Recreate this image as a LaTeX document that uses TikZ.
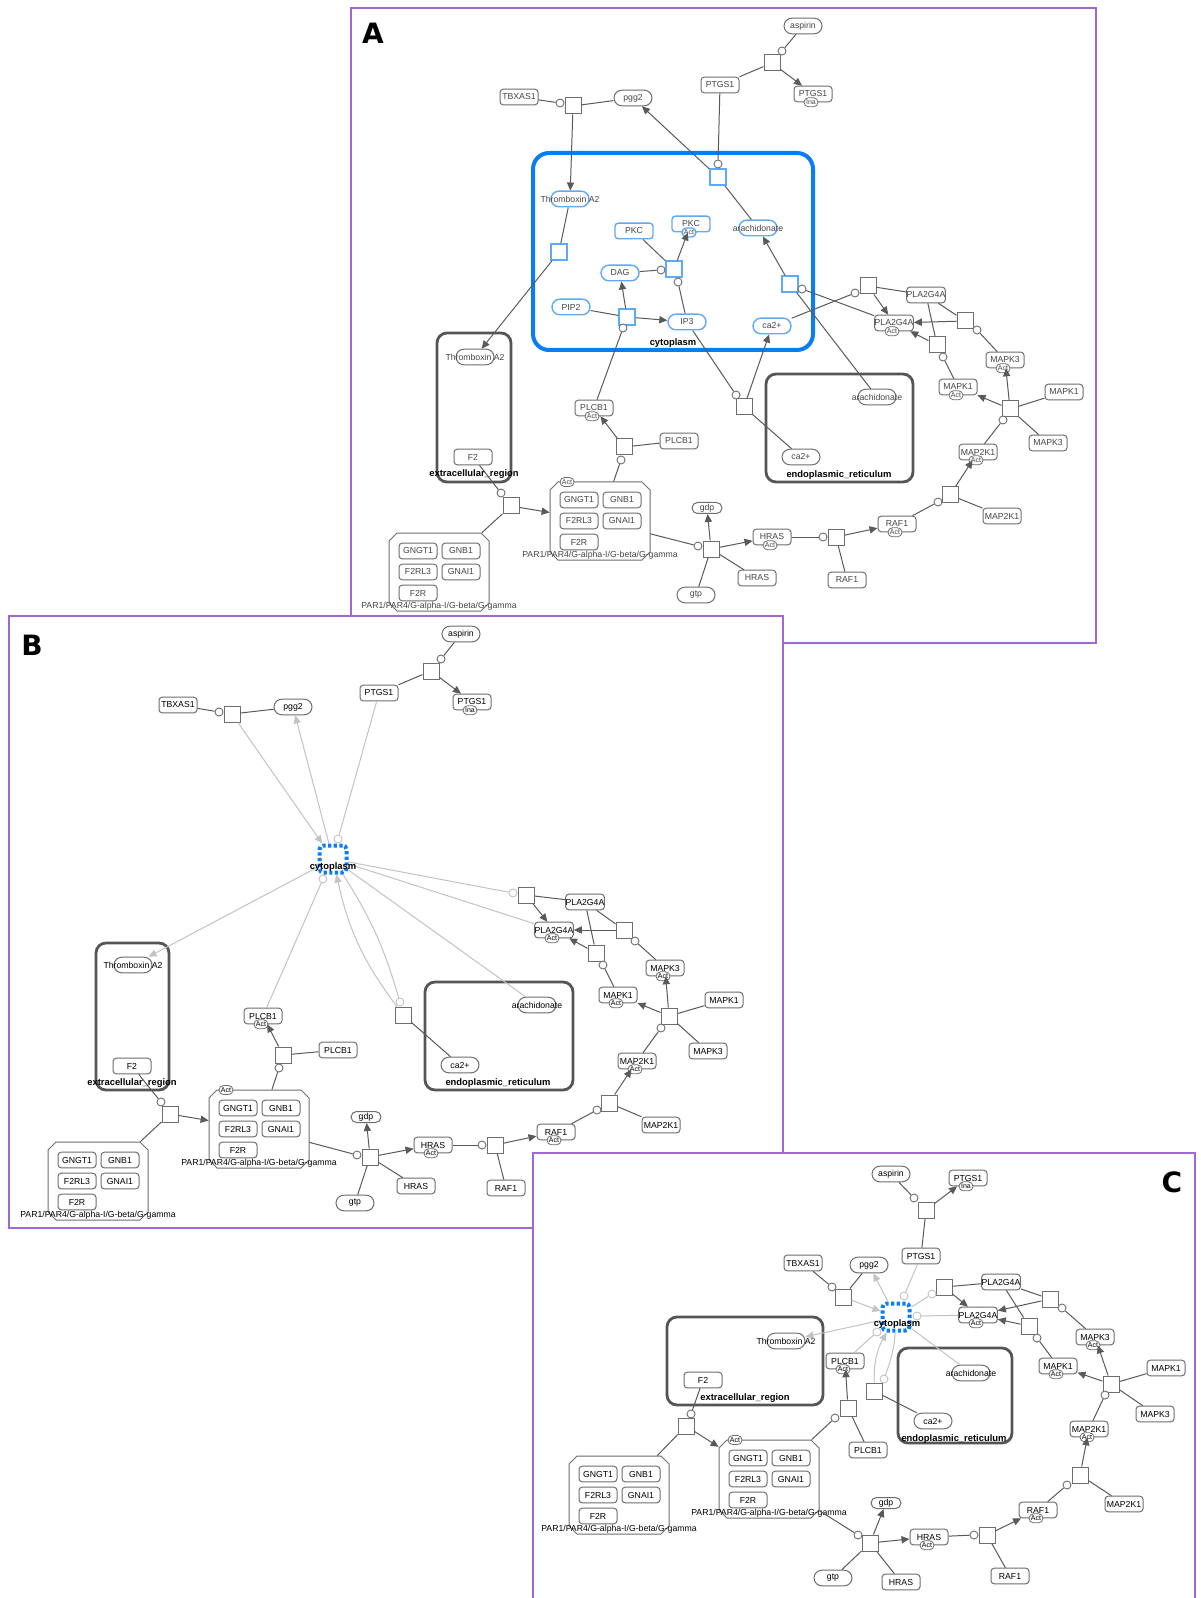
\documentclass[tikz,border=0pt]{standalone}
\usepackage{fontspec}
\setmainfont{Liberation Sans}
\newfontfamily\panelfont{DejaVu Sans}
\usetikzlibrary{arrows.meta,fit,calc}

\definecolor{frm}{RGB}{160,105,210}
\definecolor{edg}{RGB}{90,90,90}
\definecolor{nbd}{RGB}{110,110,110}
\definecolor{lgt}{RGB}{195,195,195}
\definecolor{cyb}{RGB}{10,125,245}
\definecolor{cyl}{RGB}{95,170,245}
\definecolor{cmp}{RGB}{85,85,85}
\definecolor{txa}{RGB}{70,70,70}

\tikzset{
 lab/.style={font=\fontsize{4.35pt}{5pt}\selectfont, inner sep=0pt},
 ent/.style={lab, draw=nbd, fill=white, line width=0.5pt, rounded corners=1.6pt, minimum width=19pt, minimum height=7.8pt},
 sm/.style={ent, rounded corners=3.9pt},
 sms/.style={sm, minimum width=15pt, minimum height=5.5pt, rounded corners=2.75pt},
 rx/.style={draw=nbd, fill=white, line width=0.5pt, minimum size=8pt, inner sep=0pt},
 mod/.style={circle, draw=nbd, fill=white, line width=0.45pt, minimum size=4pt, inner sep=0pt},
 lmod/.style={mod, draw=lgt},
 tag/.style={draw=nbd, fill=white, line width=0.4pt, rounded corners=2.25pt, minimum width=7pt, minimum height=4.5pt, inner sep=0pt, font=\fontsize{3.5pt}{3.7pt}\selectfont},
 ln/.style={draw=edg, line width=0.5pt},
 arr/.style={ln, -{Triangle[length=4pt,width=3.6pt]}},
 lln/.style={draw=lgt, line width=0.5pt},
 larr/.style={lln, -{Triangle[length=4pt,width=3.6pt]}},
 comp/.style={draw=cmp, line width=1.4pt, rounded corners=5pt},
 clab/.style={font=\bfseries\fontsize{4.7pt}{5pt}\selectfont, inner sep=0pt},
 panelframe/.style={draw=frm, line width=0.75pt, fill=white},
 plet/.style={font=\panelfont\bfseries\fontsize{14pt}{14pt}\selectfont, inner sep=0pt},
 bl/.style={draw=cyl, line width=0.7pt},
 cytc/.style={draw=cyb, line width=2pt, dash pattern=on 1.6pt off 1.2pt, rounded corners=2pt, minimum size=13.5pt, inner sep=0pt, fill=white},
}

% building blocks
\newcommand\Et[4][]{\node[ent,#1] (#2) at (#3) {#4};}
\newcommand\Sm[4][]{\node[sm,#1] (#2) at (#3) {#4};}
\newcommand\Tg[5][]{\node[ent,#1] (#2) at (#3) {#4}; \node[tag,#1] at ([xshift=-1pt]#2.south) {#5};}
\newcommand\Rx[3][]{\node[rx,#1] (#2) at (#3) {};}
\newcommand\Md[3][]{\node[mod,#1] (#2) at (#3) {};}
\newcommand\Wsm[4][]{\node[sm,#1] (#2) at (#3) {}; \node[lab] at (#2) {#4};}
\newcommand\Ln[2]{\draw[ln] (#1) -- (#2);}
\newcommand\Ar[2]{\draw[arr] (#1) -- (#2);}
\newcommand\LLn[2]{\draw[lln] (#1) -- (#2);}
\newcommand\LAr[2]{\draw[larr] (#1) -- (#2);}
% protein complex with chamfered outline; #1 name, #2,#3 top-left corner
\newcommand\Cplx[3]{%
 \draw[draw=nbd, line width=0.5pt, fill=white] ({#2+8},#3) -- ({#2+92},#3) -- ({#2+100},{#3+8}) -- ({#2+100},{#3+70}) -- ({#2+92},{#3+78}) -- ({#2+8},{#3+78}) -- (#2,{#3+70}) -- (#2,{#3+8}) -- cycle;
 \node[fit={(#2,#3) ({#2+100},{#3+78})}, inner sep=0pt] (#1) {};
 \Et{#1-1}{{#2+29},{#3+18}}{GNGT1}
 \Et{#1-2}{{#2+72},{#3+18}}{GNB1}
 \Et{#1-3}{{#2+29},{#3+39}}{F2RL3}
 \Et{#1-4}{{#2+72},{#3+39}}{GNAI1}
 \Et{#1-5}{{#2+29},{#3+60}}{F2R}
 \node[lab] at ({#2+50},{#3+73}) {PAR1/PAR4/G-alpha-I/G-beta/G-gamma};}

\begin{document}
\begin{tikzpicture}[x=0.5pt,y=-0.5pt]
\useasboundingbox (0,0) rectangle (1200,1598);
\fill[white] (0,0) rectangle (1200,1598);

%================ panel A : expanded cytoplasm ================
\begin{scope}[every node/.append style={text=txa}]
\draw[panelframe] (351,8) rectangle (1096,643);
\node[plet,text=black] at (373,33) {A};

\draw[draw=cyb, line width=2pt, rounded corners=8pt] (533,153) rectangle (813,350);
\draw[comp] (766,374) rectangle (913,482);
\draw[comp] (437,333) rectangle (511,482);

\Et{aTBX}{519,97}{TBXAS1}
\Rx{aTBXr}{573,106} \Md{aTBXc}{560,103}
\Sm{aPGG}{633,98}{pgg2}
\Et{aPTG}{720,85}{PTGS1}
\Rx{aASPr}{772,63} \Md{aASPc}{782,51}
\Sm{aASP}{803,26}{aspirin}
\Tg{aPTGi}{813,94}{PTGS1}{Ina}

\Wsm[bl]{aTXc}{570,199}{Thromboxin A2}
\Rx[bl]{aTXr}{559,252}
\Et[bl]{aPKC}{634,231}{PKC}
\Tg[bl]{aPKCa}{691,224}{PKC}{Act}
\Sm[bl]{aDAG}{620,273}{DAG}
\Rx[bl]{aDAGr}{674,269} \Md{aDAGc1}{661,270} \Md{aDAGc2}{678,282}
\Sm[bl]{aPIP}{571,307}{PIP2}
\Rx[bl]{aPIPr}{627,317} \Md{aPIPc}{623,328}
\Sm[bl]{aIP3}{687,322}{IP3}
\Wsm[bl]{aARc}{758,228}{arachidonate}
\Rx[bl]{aPGr}{718,177} \Md{aPGc}{718,164}
\Rx[bl]{aARr}{790,284} \Md{aARm}{802,289}
\Sm[bl]{aCAc}{772,326}{ca2+}

\Rx{aPL1r}{868,286} \Md{aPL1c}{855,293}
\Et{aPLA}{926,295}{PLA2G4A}
\Tg{aPLAa}{894,323}{PLA2G4A}{Act}
\Rx{aPL2r}{965,321} \Md{aPL2c}{977,330}
\Rx{aPL3r}{937,345} \Md{aPL3c}{943,357}
\Tg{aMK3a}{1005,360}{MAPK3}{Act}
\Tg{aMK1a}{958,387}{MAPK1}{Act}
\Rx{aMKr}{1010,409} \Md{aMKc}{1003,420}
\Et{aMK1}{1064,392}{MAPK1}
\Et{aMK3}{1048,443}{MAPK3}
\Tg{aM2Ka}{978,452}{MAP2K1}{Act}
\Rx{aM2r}{950,495} \Md{aM2c}{938,502}
\Et{aM2K}{1002,516}{MAP2K1}
\Tg{aRAFa}{897,524}{RAF1}{Act}
\Rx{aRAFr}{836,537} \Md{aRAFc}{823,537}
\Et{aRAF}{847,580}{RAF1}
\Tg{aHRa}{772,537}{HRAS}{Act}
\Et{aHR}{757,578}{HRAS}
\Rx{aHRr}{711,549} \Md{aHRc}{698,546}
\node[sms] (aGDP) at (707,508) {gdp};
\Sm{aGTP}{696,595}{gtp}
\Cplx{aCA}{550}{482}
\node[tag] at (567,482) {Act};
\Rx{aPLCr}{624,447} \Md{aPLCc}{621,460}
\Et{aPLC}{679,441}{PLCB1}
\Tg{aPLCa}{594,408}{PLCB1}{Act}
\Rx{aCAr}{744,407} \Md{aCAm}{736,395}
\Wsm{aARe}{877,397}{arachidonate}
\Sm{aCAe}{801,457}{ca2+}
\Wsm{aTXe}{475,357}{Thromboxin A2}
\Et{aF2}{473,457}{F2}
\Rx{aF2r}{511,506} \Md{aF2c}{501,493}
\Cplx{aCL}{389}{533}

\Ln{aTBX}{aTBXc} \Ln{aTBXr}{aPGG} \Ar{aTBXr}{aTXc}
\Ln{aPTG}{aASPr} \Ln{aASP}{aASPc} \Ar{aASPr}{aPTGi}
\Ln{aTXc}{aTXr} \Ar{aTXr}{aTXe}
\Ln{aPKC}{aDAGr} \Ln{aDAG}{aDAGc1} \Ar{aDAGr}{aPKCa} \Ln{aIP3}{aDAGc2}
\Ln{aPIP}{aPIPr} \Ar{aPIPr}{aDAG} \Ar{aPIPr}{aIP3} \Ln{aPLCa}{aPIPc}
\Ln{aPTG}{aPGc} \Ln{aARc}{aPGr} \Ar{aPGr}{aPGG}
\Ar{aARr}{aARc} \Ln{aARr}{aARe} \Ln{aARm}{aPLAa}
\Ln{aCAc}{aPL1c} \Ln{aPL1r}{aPLA} \Ar{aPL1r}{aPLAa}
\Ln{aPLA}{aPL2r} \Ar{aPL2r}{aPLAa} \Ln{aMK3a}{aPL2c}
\Ln{aPLA}{aPL3r} \Ar{aPL3r}{aPLAa} \Ln{aMK1a}{aPL3c}
\Ar{aMKr}{aMK3a} \Ar{aMKr}{aMK1a} \Ln{aMKr}{aMK1} \Ln{aMKr}{aMK3} \Ln{aM2Ka}{aMKc}
\Ar{aM2r}{aM2Ka} \Ln{aM2r}{aM2K} \Ln{aRAFa}{aM2c}
\Ar{aRAFr}{aRAFa} \Ln{aRAFr}{aRAF} \Ln{aHRa}{aRAFc}
\Ar{aHRr}{aHRa} \Ln{aHRr}{aHR} \Ar{aHRr}{aGDP} \Ln{aGTP}{aHRr} \Ln{aCA}{aHRc}
\Ar{aPLCr}{aPLCa} \Ln{aPLCr}{aPLC} \Ln{aCA}{aPLCc}
\Ln{aIP3}{aCAm} \Ar{aCAr}{aCAc} \Ln{aCAr}{aCAe}
\Ln{aF2}{aF2c} \Ar{aF2r}{aCA} \Ln{aF2r}{aCL}

\node[clab,text=black] at (673,343) {cytoplasm};
\node[clab,text=black] at (839,475) {endoplasmic\_reticulum};
\node[clab,text=black] at (474,474) {extracellular\_region};
\end{scope}

%================ panel B : collapsed cytoplasm ================
\draw[panelframe] (9,616) rectangle (783,1228);
\node[plet] at (32,645) {B};
\draw[comp] (96,943) rectangle (169,1090);
\draw[comp] (425,982) rectangle (573,1090);

\Et{bTBX}{178,705}{TBXAS1}
\Rx{bTBXr}{232,714} \Md{bTBXc}{219,712}
\Sm{bPGG}{293,707}{pgg2}
\Et{bPTG}{379,693}{PTGS1}
\Sm{bASP}{461,634}{aspirin}
\Rx{bASPr}{431,671} \Md{bASPc}{441,659}
\Tg{bPTGi}{472,702}{PTGS1}{Ina}
\node[cytc] (bCYT) at (333,859) {};
\Md[lmod]{bCYTc1}{338,839} \Md[lmod]{bCYTc2}{323,879}
\Rx{bPL1r}{526,895} \Md[lmod]{bPL1c}{513,893}
\Et{bPLA}{585,902}{PLA2G4A}
\Tg{bPLAa}{554,930}{PLA2G4A}{Act}
\Rx{bPL2r}{624,930} \Md{bPL2c}{635,941}
\Rx{bPL3r}{596,953} \Md{bPL3c}{603,965}
\Tg{bMK3a}{665,968}{MAPK3}{Act}
\Tg{bMK1a}{618,995}{MAPK1}{Act}
\Rx{bMKr}{669,1016} \Md{bMKc}{661,1028}
\Et{bMK1}{724,1000}{MAPK1}
\Et{bMK3}{708,1051}{MAPK3}
\Tg{bM2Ka}{637,1061}{MAP2K1}{Act}
\Rx{bM2r}{609,1103} \Md{bM2c}{597,1110}
\Et{bM2K}{661,1125}{MAP2K1}
\Tg{bRAFa}{556,1132}{RAF1}{Act}
\Rx{bRAFr}{495,1145} \Md{bRAFc}{482,1145}
\Et{bRAF}{506,1188}{RAF1}
\Tg{bHRa}{433,1145}{HRAS}{Act}
\Et{bHR}{416,1186}{HRAS}
\Rx{bHRr}{370,1157} \Md{bHRc}{357,1155}
\node[sms] (bGDP) at (366,1117) {gdp};
\Sm{bGTP}{355,1203}{gtp}
\Cplx{bCA}{209}{1090}
\node[tag] at (226,1090) {Act};
\Cplx{bCL}{48}{1142}
\Rx{bF2r}{170,1114} \Md{bF2c}{161,1102}
\Et{bF2}{132,1066}{F2}
\Wsm{bTXe}{133,965}{Thromboxin A2}
\Tg{bPLCa}{263,1016}{PLCB1}{Act}
\Rx{bPLCr}{283,1055} \Md{bPLCc}{279,1068}
\Et{bPLC}{338,1050}{PLCB1}
\Rx{bCAr}{403,1015} \Md[lmod]{bCAc}{400,1002}
\Wsm{bARe}{537,1005}{arachidonate}
\Sm{bCAe}{460,1065}{ca2+}

\Ln{bTBX}{bTBXc} \Ln{bTBXr}{bPGG} \Ln{bPTG}{bASPr} \Ln{bASP}{bASPc} \Ar{bASPr}{bPTGi}
\Ln{bPL1r}{bPLA} \Ar{bPL1r}{bPLAa}
\Ln{bPLA}{bPL2r} \Ar{bPL2r}{bPLAa} \Ln{bMK3a}{bPL2c}
\Ln{bPLA}{bPL3r} \Ar{bPL3r}{bPLAa} \Ln{bMK1a}{bPL3c}
\Ar{bMKr}{bMK3a} \Ar{bMKr}{bMK1a} \Ln{bMKr}{bMK1} \Ln{bMKr}{bMK3} \Ln{bM2Ka}{bMKc}
\Ar{bM2r}{bM2Ka} \Ln{bM2r}{bM2K} \Ln{bRAFa}{bM2c}
\Ar{bRAFr}{bRAFa} \Ln{bRAFr}{bRAF} \Ln{bHRa}{bRAFc}
\Ar{bHRr}{bHRa} \Ln{bHRr}{bHR} \Ar{bHRr}{bGDP} \Ln{bGTP}{bHRr} \Ln{bCA}{bHRc}
\Ar{bPLCr}{bPLCa} \Ln{bPLCr}{bPLC} \Ln{bCA}{bPLCc}
\Ln{bF2}{bF2c} \Ar{bF2r}{bCA} \Ln{bF2r}{bCL}
\Ln{bCAr}{bCAe}
\LAr{bTBXr}{bCYT} \LAr{bCYT}{bPGG} \LLn{bPTG}{bCYTc1} \LAr{bCYT}{bTXe} \LLn{bPLCa}{bCYTc2}
\draw[larr] (bCAr) to[bend left=12] (bCYT);
\draw[lln] (bCYT) to[bend left=8] (bCAc);
\LLn{bCYT}{bPL1c} \LLn{bCYT}{bPLAa} \LLn{bCYT}{bARe}

\node[clab] at (333,867) {cytoplasm};
\node[clab] at (132,1083) {extracellular\_region};
\node[clab] at (498,1083) {endoplasmic\_reticulum};

%================ panel C : collapsed cytoplasm, regrouped ================
\draw[panelframe] (533,1153) rectangle (1195,1610);
\node[plet] at (1172,1182) {C};
\draw[comp] (667,1317) rectangle (823,1405);
\draw[comp] (898,1348) rectangle (1012,1443);

\Et{cTBX}{803,1263}{TBXAS1}
\Rx{cTBXr}{843,1297} \Md{cTBXc}{832,1287}
\Sm{cPGG}{869,1265}{pgg2}
\Sm{cASP}{891,1174}{aspirin}
\Tg{cPTGi}{968,1178}{PTGS1}{Ina}
\Rx{cASPr}{926,1210} \Md{cASPc}{914,1198}
\Et{cPTG}{921,1256}{PTGS1}
\node[cytc] (cCYT) at (896,1317) {};
\Md[lmod]{cCYTc1}{904,1296} \Md[lmod]{cCYTc2}{877,1332} \Md[lmod]{cCYTc3}{917,1316}
\Rx{cPL1r}{944,1287} \Md[lmod]{cPL1c}{932,1294}
\Et{cPLA}{1001,1282}{PLA2G4A}
\Tg{cPLAa}{978,1315}{PLA2G4A}{Act}
\Rx{cPL2r}{1050,1299} \Md{cPL2c}{1062,1308}
\Rx{cPL3r}{1029,1326} \Md{cPL3c}{1037,1338}
\Tg{cMK3a}{1095,1337}{MAPK3}{Act}
\Tg{cMK1a}{1058,1366}{MAPK1}{Act}
\Rx{cMKr}{1111,1384} \Md{cMKc}{1105,1395}
\Et{cMK1}{1166,1368}{MAPK1}
\Et{cMK3}{1155,1414}{MAPK3}
\Tg{cM2Ka}{1089,1429}{MAP2K1}{Act}
\Rx{cM2r}{1080,1475} \Md{cM2c}{1067,1485}
\Et{cM2K}{1124,1504}{MAP2K1}
\Tg{cRAFa}{1038,1510}{RAF1}{Act}
\Rx{cRAFr}{987,1535} \Md{cRAFc}{974,1535}
\Et{cRAF}{1010,1576}{RAF1}
\Tg{cHRa}{929,1537}{HRAS}{Act}
\Et{cHR}{901,1582}{HRAS}
\Rx{cHRr}{870,1543} \Md{cHRc}{858,1535}
\node[sms] (cGDP) at (886,1503) {gdp};
\Sm{cGTP}{833,1578}{gtp}
\Cplx{cCA}{719}{1440}
\node[tag] at (735,1440) {Act};
\Cplx{cCL}{569}{1456}
\Rx{cF2r}{686,1426} \Md{cF2c}{691,1414}
\Wsm{cTXe}{786,1341}{Thromboxin A2}
\Et{cF2}{703,1380}{F2}
\Tg{cPLCa}{845,1361}{PLCB1}{Act}
\Rx{cPLCr}{848,1408} \Md{cPLCc}{835,1418}
\Et{cPLC}{868,1450}{PLCB1}
\Rx{cCAr}{874,1391} \Md[lmod]{cCAc}{884,1379}
\Wsm{cARe}{971,1373}{arachidonate}
\Sm{cCAe}{933,1421}{ca2+}

\Ln{cTBX}{cTBXc} \Ln{cTBXr}{cPGG} \Ln{cPTG}{cASPr} \Ln{cASP}{cASPc} \Ar{cASPr}{cPTGi}
\Ln{cPL1r}{cPLA} \Ar{cPL1r}{cPLAa}
\Ln{cPLA}{cPL2r} \Ar{cPL2r}{cPLAa} \Ln{cMK3a}{cPL2c}
\Ln{cPLA}{cPL3r} \Ar{cPL3r}{cPLAa} \Ln{cMK1a}{cPL3c}
\Ar{cMKr}{cMK3a} \Ar{cMKr}{cMK1a} \Ln{cMKr}{cMK1} \Ln{cMKr}{cMK3} \Ln{cM2Ka}{cMKc}
\Ar{cM2r}{cM2Ka} \Ln{cM2r}{cM2K} \Ln{cRAFa}{cM2c}
\Ar{cRAFr}{cRAFa} \Ln{cRAFr}{cRAF} \Ln{cHRa}{cRAFc}
\Ar{cHRr}{cHRa} \Ln{cHRr}{cHR} \Ar{cHRr}{cGDP} \Ln{cGTP}{cHRr} \Ln{cCA}{cHRc}
\Ar{cPLCr}{cPLCa} \Ln{cPLCr}{cPLC} \Ln{cCA}{cPLCc}
\Ln{cF2}{cF2c} \Ar{cF2r}{cCA} \Ln{cF2r}{cCL}
\Ln{cCAr}{cCAe}
\LAr{cTBXr}{cCYT} \LAr{cCYT}{cPGG} \LLn{cPTG}{cCYTc1} \LAr{cCYT}{cTXe} \LLn{cPLCa}{cCYTc2}
\draw[larr] (cCAr) to[bend left=15] (cCYT);
\draw[lln] (cCYT) to[bend left=8] (cCAc);
\LLn{cCYT}{cPL1c} \LLn{cCYTc3}{cPLAa} \LLn{cCYT}{cARe}

\node[clab] at (897,1324) {cytoplasm};
\node[clab] at (745,1398) {extracellular\_region};
\node[clab] at (954,1439) {endoplasmic\_reticulum};
\end{tikzpicture}
\end{document}
